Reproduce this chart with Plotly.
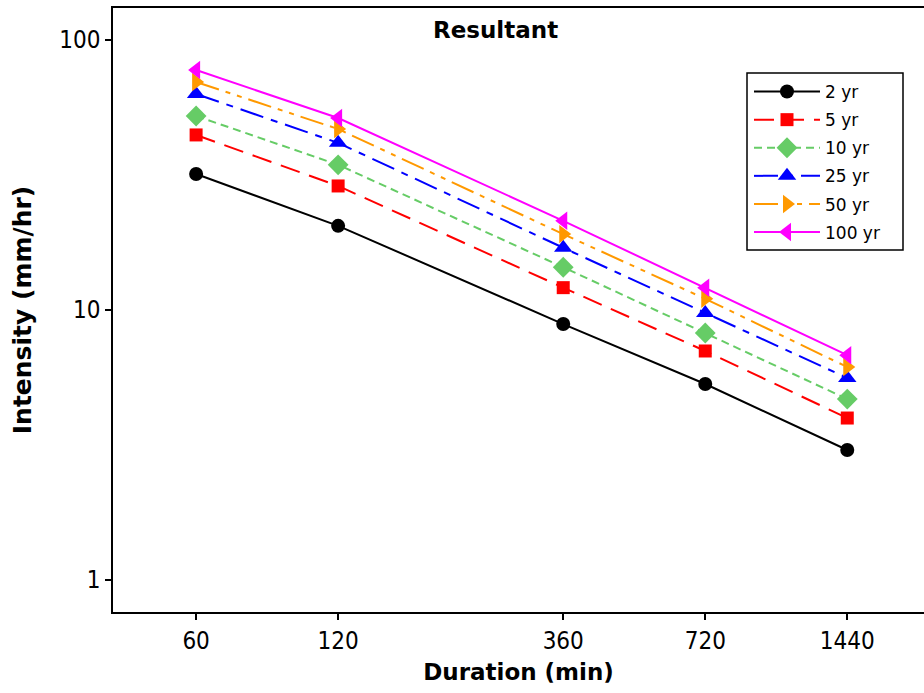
import plotly.graph_objects as go

durations = [60, 120, 360, 720, 1440]
series_names = ["2 yr", "5 yr", "10 yr", "25 yr", "50 yr", "100 yr"]
i_2yr = [31.9, 20.5, 8.87, 5.32, 3.03]
i_5yr = [44.5, 28.8, 12.1, 7.05, 3.98]
i_10yr = [52.3, 34.5, 14.4, 8.22, 4.68]
i_25yr = [63.1, 41.6, 17.0, 9.75, 5.6]
i_50yr = [69.9, 46.8, 19.1, 11.0, 6.15]
i_100yr = [77.4, 51.4, 21.4, 12.1, 6.8]
values = [i_2yr, i_5yr, i_10yr, i_25yr, i_50yr, i_100yr]

colors = ["#000000", "#FF0000", "#66CC66", "#0000FF", "#FF9900", "#FF00FF"]
symbols = ["circle", "square", "diamond", "triangle-up", "triangle-right", "triangle-left"]
msizes = [14, 13, 16, 16, 16, 16]
dashes = ["solid", "20px,10px", "8px,5px", "24px,8px,7px,8px",
          "24px,7px,5px,7px,5px,7px", "solid"]

fig = go.Figure()
for name, v, c, s, d, ms in zip(series_names, values, colors, symbols, dashes, msizes):
    fig.add_trace(go.Scatter(
        x=durations, y=v, name=name, mode="lines+markers", legendgroup=name,
        line=dict(color=c, width=2, dash=d),
        marker=dict(color=c, symbol=s, size=ms),
    ))

font_family = "DejaVu Sans, Verdana, sans-serif"
tick_family = "DejaVu Sans Condensed, Roboto, sans-serif"

PL, PT, PW, PH = 113, 8, 811, 604
def px_x(p):
    return (p - PL) / PW
def px_y(p):
    return 1 - (p - PT) / PH

fig.update_layout(
    width=924, height=693,
    margin=dict(l=113, r=0, t=8, b=81),
    paper_bgcolor="white", plot_bgcolor="white",
    font=dict(family=font_family, color="black", size=19),
    showlegend=True,
    legend=dict(x=px_x(749), y=px_y(74), xanchor="left", yanchor="top",
                borderwidth=0, bgcolor="rgba(0,0,0,0)",
                font=dict(size=17, family=font_family), itemwidth=66,
                tracegroupgap=3),
    shapes=[dict(type="rect", xref="paper", yref="paper",
                 x0=px_x(747), x1=px_x(903), y0=px_y(250), y1=px_y(73),
                 line=dict(color="black", width=1.5), fillcolor="rgba(0,0,0,0)",
                 layer="below")],
    annotations=[dict(text="<b>Resultant</b>", x=0.472, y=px_y(30),
                      xref="paper", yref="paper", showarrow=False, yanchor="middle",
                      font=dict(size=23, family=font_family))],
)

fig.update_xaxes(
    type="log", range=[1.602, 3.321],
    tickvals=durations, ticktext=[str(d) for d in durations],
    showline=True, linecolor="black", linewidth=1.5, mirror=True,
    ticks="outside", ticklen=6, tickwidth=1.5, tickcolor="black",
    showgrid=False, zeroline=False,
    title=dict(text="<b>Duration (min)</b>", font=dict(size=23), standoff=10),
    tickfont=dict(size=24, family=tick_family),
)
fig.update_yaxes(
    type="log", range=[-0.1185, 2.1185],
    tickvals=[1, 10, 100], ticktext=["1", "10", "100"],
    showline=True, linecolor="black", linewidth=1.5, mirror=False,
    ticks="outside", ticklen=6, tickwidth=1.5, tickcolor="black",
    showgrid=False, zeroline=False,
    title=dict(text="<b>Intensity (mm/hr)</b>", font=dict(size=25), standoff=20),
    tickfont=dict(size=24, family=tick_family),
)

fig.write_html("out.html")
